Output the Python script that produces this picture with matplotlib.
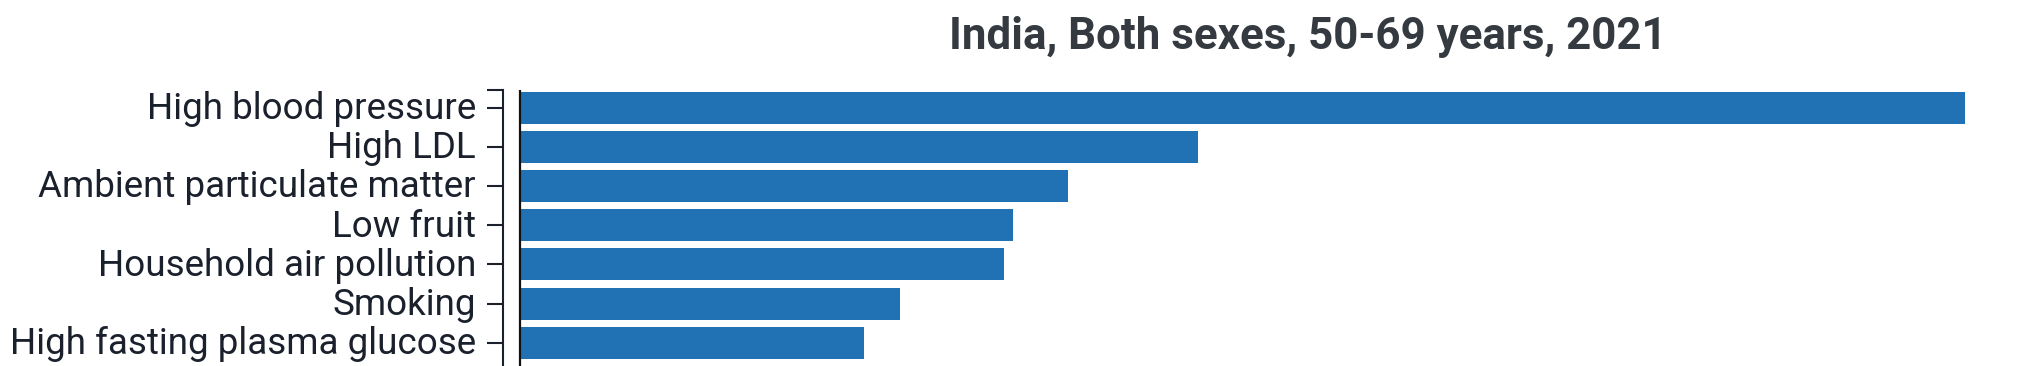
import matplotlib
matplotlib.use("Agg")
import matplotlib.pyplot as plt
import matplotlib.transforms as mtransforms
from matplotlib.lines import Line2D

# ---- data ----
categories = [
    "High blood pressure",
    "High LDL",
    "Ambient particulate matter",
    "Low fruit",
    "Household air pollution",
    "Smoking",
    "High fasting plasma glucose",
]
values = [14.44, 6.77, 5.47, 4.92, 4.83, 3.79, 3.43]
title = "India, Both sexes, 50-69 years, 2021"

# ---- layout (pixels) ----
W, H, DPI = 2028, 366, 100
fig = plt.figure(figsize=(W / DPI, H / DPI), dpi=DPI)
fig.patch.set_facecolor("white")

def fx(px):
    return px / W

def fy(py):
    return 1 - py / H

BAR_COLOR = "#2171b5"
AXIS_COLOR = "#1a202c"
LABEL_COLOR = "#1a202c"
TITLE_COLOR = "#343a40"
LABEL_FONT = ["Roboto", "DejaVu Sans"]
TITLE_FONT = ["Roboto", "DejaVu Sans"]

ax_left, ax_right, ax_top = 521, 1965, 90
ax = fig.add_axes([fx(ax_left), 0, fx(ax_right - ax_left), (H - ax_top) / H])

ypos = list(range(len(categories)))
ax.barh(ypos, values, height=0.816, color=BAR_COLOR, linewidth=0)
ax.set_xlim(0, max(values))
ax.set_ylim(6.595, -0.455)

for s in ("top", "right", "bottom"):
    ax.spines[s].set_visible(False)
ax.spines["left"].set_position(("outward", 13.2))
ax.spines["left"].set_linewidth(1.5)
ax.spines["left"].set_color(AXIS_COLOR)
ax.set_xticks([])
ax.set_yticks(ypos)
ax.set_yticklabels([""] * len(ypos))
ax.tick_params(axis="y", length=11.5, width=1.5, color=AXIS_COLOR, direction="out")

# outer tick at top of the domain
fig.add_artist(Line2D([fx(486.5), fx(503.7)], [fy(90), fy(90)], lw=1.5,
                      color=AXIS_COLOR, solid_capstyle="butt"))
# zero line
fig.add_artist(Line2D([fx(519.5), fx(519.5)], [fy(90), 0], lw=1.6,
                      color="#111111", solid_capstyle="butt"))

# ---- fit text sizes ----
renderer = fig.canvas.get_renderer()

def measure(text, family, weight):
    t = fig.text(0, 0, text, fontsize=20, family=family, weight=weight)
    w = t.get_window_extent(renderer=renderer).width
    t.remove()
    return w

label_targets = {
    "High fasting plasma glucose": 460,
    "Ambient particulate matter": 439,
    "Household air pollution": 379,
}
ratios = [20 * tw / measure(s, LABEL_FONT, "normal") for s, tw in label_targets.items()]
label_fs = sum(ratios) / len(ratios)
title_fs = 20 * 716 / measure(title, TITLE_FONT, "bold")

# labels: cap-centre on tick -> baseline ~11px below tick centre
trans = mtransforms.blended_transform_factory(fig.transFigure, ax.transData) + \
    mtransforms.ScaledTranslation(0, -11.3 / DPI, fig.dpi_scale_trans)
for y, cat in zip(ypos, categories):
    fig.text(fx(476), y, cat, transform=trans, ha="right", va="baseline",
             fontsize=label_fs, family=LABEL_FONT, color=LABEL_COLOR)

fig.text(fx(949), fy(49.5), title, ha="left", va="baseline", fontsize=title_fs,
         family=TITLE_FONT, weight="bold", color=TITLE_COLOR)

fig.savefig("out.png", dpi=DPI, facecolor="white")
